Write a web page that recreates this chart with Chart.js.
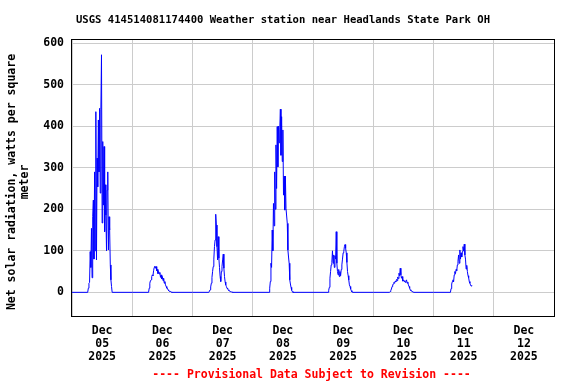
<!DOCTYPE html>
<html><head><meta charset="utf-8">
<script src="https://cdn.jsdelivr.net/npm/chart.js@4.4.1/dist/chart.umd.min.js"></script>
<style>html,body{margin:0;padding:0;background:#fff;}</style>
</head><body>
<canvas id="c" width="576" height="384"></canvas>
<script>
// ---- data ----
const chartTitle = 'USGS 414514081174400 Weather station near Headlands State Park OH';
const yAxisTitle = ['Net solar radiation, watts per square', 'meter'];
const footerText = '---- Provisional Data Subject to Revision ----';
const tickMonth = 'Dec';
const tickYear = '2025';
const tickDays = ['05', '06', '07', '08', '09', '10', '11', '12'];
const yTicks = [0, 100, 200, 300, 400, 500, 600];
const stepHours = 0.25;                       // 15-minute readings
const dayStarts = [6.25, 6.5, 6.5, 6.5, 6.0, 6.5, 6.75]; // hour of first daylight reading per day
const dec05 = [0,10,22,24,98,60,154,35,182,222,80,290,100,435,78,323,254,415,290,443,239,440,572,167,363,210,351,146,259,186,100,246,290,102,182,150,66,30,14,0];
const dec06 = [0,10,22,28,30,38,42,40,52,60,63,58,62,52,55,45,50,44,48,36,42,32,38,28,34,22,26,18,14,10,10,6,4,3,2,2,1,0];
const dec07 = [0,3,6,13,22,36,50,62,80,110,126,188,162,110,78,134,82,60,38,26,50,62,78,92,58,38,25,18,14,10,8,6,4,3,2,2,1,1,0];
const dec08 = [0,10,26,70,60,150,100,214,160,290,200,355,250,399,302,400,360,391,441,330,423,315,391,234,280,198,280,202,202,166,102,85,70,30,20,12,5,2,0];
const dec09 = [0,5,12,34,50,66,72,100,70,90,60,88,80,146,70,50,42,55,38,50,40,55,66,80,95,98,110,115,106,95,72,50,40,30,18,14,8,4,1,0];
const dec10 = [0,2,5,8,14,18,20,24,22,27,25,31,28,37,33,46,40,58,42,34,38,27,30,26,28,24,27,30,22,25,18,14,10,6,4,3,2,1,0];
const dec11 = [0,9,20,26,30,25,42,50,45,55,52,66,75,90,70,102,80,95,85,98,110,100,116,90,80,56,65,50,40,35,26,22,18,15,17];
const dayRecords = [dec05, dec06, dec07, dec08, dec09, dec10, dec11];

// ---- build points (x = hours since Dec 05 00:00) ----
const points = [];
dayRecords.forEach((vals, d) => {
  points.push({x: d * 24, y: 0});
  vals.forEach((v, i) => points.push({x: d * 24 + dayStarts[d] + i * stepHours, y: v}));
});
const tickHours = [];
for (let h = 0; h <= tickDays.length * 24; h += 12) tickHours.push(h);

const FONT = '"DejaVu Sans Mono", monospace';

const framePlugin = {
  id: 'frameAndText',
  afterDraw(chart) {
    const {ctx, chartArea: a} = chart;
    ctx.save();
    ctx.strokeStyle = '#000';
    ctx.lineWidth = 1;
    ctx.strokeRect(Math.round(a.left) - 0.5, Math.round(a.top) + 0.5,
                   Math.round(a.right) - Math.round(a.left) + 1, Math.round(a.bottom) - Math.round(a.top));
    ctx.fillStyle = '#000';
    ctx.font = 'bold 11px ' + FONT;
    ctx.textAlign = 'center';
    ctx.textBaseline = 'middle';
    ctx.fillText(chartTitle, 283, 20, 414);
    // y-axis title
    ctx.save();
    ctx.font = 'bold 11.5px ' + FONT;
    ctx.translate(0, 182);
    ctx.rotate(-Math.PI / 2);
    ctx.fillText(yAxisTitle[0], 0, 12);
    ctx.fillText(yAxisTitle[1], 0, 25);
    ctx.restore();
    ctx.fillStyle = '#ff0000';
    ctx.font = 'bold 11.5px ' + FONT;
    ctx.fillText(footerText, 311.5, 375);
    ctx.restore();
  }
};

new Chart(document.getElementById('c'), {
  type: 'line',
  data: {datasets: [{
    data: points, borderColor: '#0000ff', borderWidth: 1, pointRadius: 0,
    tension: 0, fill: false
  }]},
  options: {
    responsive: false, animation: false, devicePixelRatio: 1,
    layout: {padding: {top: 39, right: 22, bottom: 0, left: 0}},
    plugins: {legend: {display: false}, tooltip: {enabled: false}, title: {display: false}},
    scales: {
      x: {
        type: 'linear', min: 0, max: tickDays.length * 24,
        afterBuildTicks: s => { s.ticks = tickHours.map(v => ({value: v})); },
        afterFit: s => { s.height = 68; },
        grid: {
          color: c => (c.tick && c.tick.value % 24 === 0) ? '#cccccc' : 'rgba(0,0,0,0)',
          drawTicks: false, lineWidth: 1
        },
        border: {display: false},
        ticks: {
          autoSkip: false, maxRotation: 0, minRotation: 0, padding: 9, color: '#000',
          font: {family: FONT, weight: 'bold', size: 11.5, lineHeight: 1.1},
          callback: v => (v % 24 === 12) ? [tickMonth, tickDays[(v - 12) / 24], tickYear] : ''
        }
      },
      y: {
        min: -57, max: 610,
        afterBuildTicks: s => { s.ticks = yTicks.map(v => ({value: v})); },
        afterFit: s => { s.width = 72; },
        grid: {color: '#cccccc', drawTicks: false, lineWidth: 1},
        border: {display: false},
        ticks: {padding: 8, color: '#000', font: {family: FONT, weight: 'bold', size: 11.5}},
        title: {display: false}
      }
    }
  },
  plugins: [framePlugin]
});
</script>
</body></html>
